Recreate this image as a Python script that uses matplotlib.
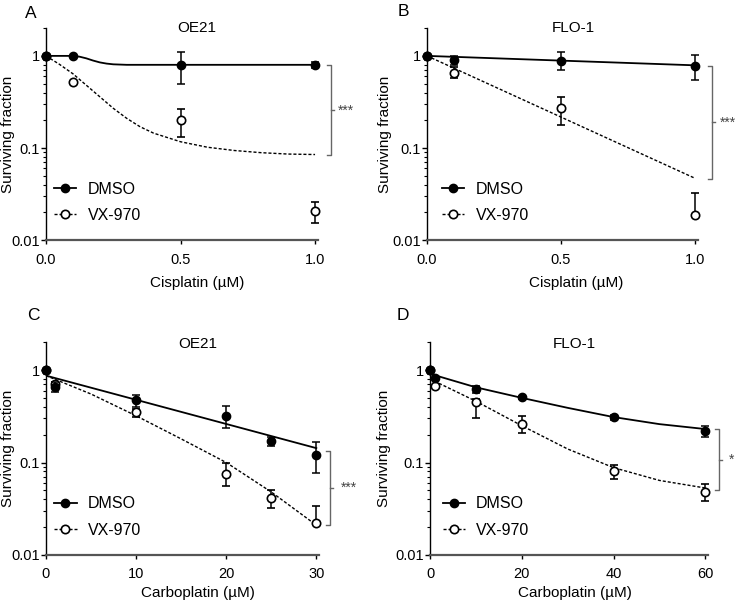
import numpy as np
import matplotlib
matplotlib.use("Agg")
import matplotlib.pyplot as plt
from matplotlib.lines import Line2D
from matplotlib.ticker import LogLocator, FixedLocator, NullFormatter

plt.rcParams['font.family'] = ['Liberation Sans', 'DejaVu Sans']

# ---- panel A: OE21, cisplatin
a_x = [0, 0.1, 0.5, 1.0]
a_dmso = [1.0, 1.0, 0.80, 0.80]
a_dmso_lo = [1.0, 1.0, 0.49, 0.74]
a_dmso_hi = [1.0, 1.0, 1.10, 0.86]
a_vx = [1.0, 0.52, 0.20, 0.0205]
a_vx_lo = [1.0, 0.52, 0.133, 0.0155]
a_vx_hi = [1.0, 0.52, 0.265, 0.0257]
a_fitx_dmso = [0, 0.1, 0.125, 0.15, 0.175, 0.2, 0.225, 0.25, 0.3, 0.5, 1.0]
a_fit_dmso = [1.0, 1.0, 0.98, 0.94, 0.89, 0.85, 0.825, 0.81, 0.80, 0.80, 0.80]
a_fitx_vx = [0, 0.05, 0.1, 0.15, 0.2, 0.25, 0.3, 0.35, 0.4, 0.5, 0.6, 0.7, 0.8, 0.9, 1.0]
a_fit_vx = [1.0, 0.81, 0.64, 0.48, 0.36, 0.27, 0.21, 0.17, 0.145, 0.117, 0.102, 0.094, 0.089, 0.086, 0.085]

# ---- panel B: FLO-1, cisplatin
b_x = [0, 0.1, 0.5, 1.0]
b_dmso = [1.0, 0.91, 0.89, 0.785]
b_dmso_lo = [1.0, 0.80, 0.70, 0.55]
b_dmso_hi = [1.0, 1.0, 1.10, 1.02]
b_vx = [1.0, 0.65, 0.27, 0.0187]
b_vx_lo = [1.0, 0.57, 0.18, 0.0187]
b_vx_hi = [1.0, 0.75, 0.355, 0.0325]
b_fitx = [0, 1.0]
b_fit_dmso = [1.0, 0.79]
b_fit_vx = [1.0, 0.047]

# ---- panel C: OE21, carboplatin
c_x = [0, 1, 10, 20, 25, 30]
c_dmso = [1.0, 0.66, 0.47, 0.32, 0.169, 0.121]
c_dmso_lo = [1.0, 0.58, 0.40, 0.235, 0.15, 0.077]
c_dmso_hi = [1.0, 0.75, 0.54, 0.41, 0.19, 0.166]
c_vx = [1.0, 0.70, 0.35, 0.076, 0.041, 0.022]
c_vx_lo = [1.0, 0.66, 0.31, 0.056, 0.032, 0.022]
c_vx_hi = [1.0, 0.74, 0.38, 0.098, 0.050, 0.034]
c_fitx_dmso = [0, 30]
c_fit_dmso = [0.87, 0.143]
c_fitx_vx = [0, 5, 10, 15, 20, 25, 30]
c_fit_vx = [0.87, 0.55, 0.32, 0.18, 0.10, 0.048, 0.021]

# ---- panel D: FLO-1, carboplatin
d_x = [0, 1, 10, 20, 40, 60]
d_dmso = [1.0, 0.82, 0.62, 0.51, 0.31, 0.22]
d_dmso_lo = [1.0, 0.82, 0.57, 0.49, 0.29, 0.19]
d_dmso_hi = [1.0, 0.82, 0.67, 0.53, 0.33, 0.25]
d_vx = [1.0, 0.68, 0.45, 0.26, 0.080, 0.048]
d_vx_lo = [1.0, 0.68, 0.30, 0.21, 0.067, 0.038]
d_vx_hi = [1.0, 0.68, 0.49, 0.32, 0.093, 0.059]
d_fitx = [0, 10, 20, 30, 40, 50, 60]
d_fit_dmso = [0.91, 0.65, 0.50, 0.39, 0.31, 0.26, 0.23]
d_fit_vx = [0.80, 0.46, 0.25, 0.14, 0.088, 0.064, 0.053]

labels = ['DMSO', 'VX-970']

fig = plt.figure(figsize=(7.38, 6.08), dpi=100)

dash = (0, (2.2, 1.4))


def panel(rect, xlim, xticks, xticklabels, xlabel, title, title_x,
          fits, pts, bracket, leg_xy, ylab_x, xlab_x, xlab_y, title_y):
    ax = fig.add_axes(rect)
    ax.set_yscale('log')
    ax.set_ylim(0.01, 2.0)
    ax.set_xlim(*xlim)

    (fx_d, fy_d), (fx_v, fy_v) = fits
    ax.plot(fx_d, fy_d, color='black', lw=1.3, zorder=2)
    ax.plot(fx_v, fy_v, color='black', lw=1.0, ls=dash, zorder=2)

    (x, yd, dlo, dhi), (_, yv, vlo, vhi) = pts
    yv = np.array(yv); yd = np.array(yd)
    ax.errorbar(x, yv, yerr=[yv - np.array(vlo), np.array(vhi) - yv], fmt='o',
                ms=6, mfc='white', mec='black', mew=1.2, ecolor='black',
                elinewidth=1.1, capsize=3, capthick=1.1, clip_on=False, zorder=3)
    ax.errorbar(x, yd, yerr=[yd - np.array(dlo), np.array(dhi) - yd], fmt='o',
                ms=6, mfc='black', mec='black', ecolor='black',
                elinewidth=1.1, capsize=3, capthick=1.1, clip_on=False, zorder=4)

    # significance bracket
    bx, tick, y0, y1, star, sx = bracket
    ax.plot([bx - tick, bx, bx, bx - tick], [y0, y0, y1, y1], color='#666666',
            lw=1.0, clip_on=False)
    ym = np.sqrt(y0 * y1)
    ax.plot([bx, bx + tick * 0.7], [ym, ym], color='#666666', lw=1.0, clip_on=False)
    ax.text(sx, ym, star, ha='left', va='center', fontsize=10, color='#444444')

    for s in ['top', 'right']:
        ax.spines[s].set_visible(False)
    ax.spines['left'].set_color('black')
    ax.spines['left'].set_linewidth(1.0)
    ax.spines['bottom'].set_color('#555555')
    ax.spines['bottom'].set_linewidth(1.6)

    ax.yaxis.set_major_locator(FixedLocator([0.01, 0.1, 1]))
    ax.set_yticklabels(['0.01', '0.1', '1'])
    ax.yaxis.set_minor_locator(LogLocator(base=10, subs=np.arange(2, 10)))
    ax.yaxis.set_minor_formatter(NullFormatter())
    ax.tick_params(axis='y', which='major', length=3.5, width=1.0, pad=1, labelsize=10.5)
    ax.tick_params(axis='y', which='minor', length=2, width=0.8)
    ax.set_xticks(xticks)
    ax.set_xticklabels(xticklabels)
    ax.tick_params(axis='x', length=3, width=1.0, pad=6, labelsize=10.5)

    ax.set_ylabel('Surviving fraction', fontsize=11)
    ax.yaxis.label.set_va('center')
    ax.yaxis.set_label_coords(ylab_x, 0.5)
    ax.set_xlabel(xlabel, fontsize=11)
    ax.xaxis.label.set_va('center')
    ax.xaxis.set_label_coords(xlab_x, xlab_y)
    ax.text(title_x, title_y, title, transform=ax.transAxes, ha='center',
            va='center', fontsize=11)

    handles = [Line2D([], [], color='black', lw=1.3, marker='o', ms=6),
               Line2D([], [], color='black', lw=1.0, ls=dash, marker='o', ms=6,
                      mfc='white', mew=1.2)]
    ax.legend(handles, labels, loc='upper left', bbox_to_anchor=leg_xy,
              frameon=False, borderpad=0, borderaxespad=0, handlelength=1.4,
              handletextpad=0.7, labelspacing=0.7, fontsize=11.5)
    return ax


panel([0.0623, 0.605, 0.3686, 0.3487], (0, 1.011), [0, 0.5, 1.0], ['0.0', '0.5', '1.0'],
      'Cisplatin (µM)', 'OE21', 0.555,
      ((a_fitx_dmso, a_fit_dmso), (a_fitx_vx, a_fit_vx)),
      ((a_x, a_dmso, a_dmso_lo, a_dmso_hi), (a_x, a_vx, a_vx_lo, a_vx_hi)),
      (1.059, 0.015, 0.79, 0.083, '***', 1.085), (0.03, 0.275), -0.14, 0.555, -0.203, 1.0)

panel([0.5786, 0.605, 0.367, 0.3487], (0, 1.011), [0, 0.5, 1.0], ['0.0', '0.5', '1.0'],
      'Cisplatin (µM)', 'FLO-1', 0.54,
      ((b_fitx, b_fit_dmso), (b_fitx, b_fit_vx)),
      ((b_x, b_dmso, b_dmso_lo, b_dmso_hi), (b_x, b_vx, b_vx_lo, b_vx_hi)),
      (1.063, 0.015, 0.785, 0.046, '***', 1.092), (0.055, 0.275), -0.155, 0.55, -0.203, 1.0)

panel([0.0623, 0.0872, 0.37, 0.350], (0, 30.3), [0, 10, 20, 30], ['0', '10', '20', '30'],
      'Carboplatin (µM)', 'OE21', 0.555,
      ((c_fitx_dmso, c_fit_dmso), (c_fitx_vx, c_fit_vx)),
      ((c_x, c_dmso, c_dmso_lo, c_dmso_hi), (c_x, c_vx, c_vx_lo, c_vx_hi)),
      (31.56, 0.45, 0.133, 0.021, '***', 32.7), (0.03, 0.275), -0.14, 0.555, -0.178, 0.99)

panel([0.5827, 0.0872, 0.3767, 0.350], (0, 60.6), [0, 20, 40, 60], ['0', '20', '40', '60'],
      'Carboplatin (µM)', 'FLO-1', 0.52,
      ((d_fitx, d_fit_dmso), (d_fitx, d_fit_vx)),
      ((d_x, d_dmso, d_dmso_lo, d_dmso_hi), (d_x, d_vx, d_vx_lo, d_vx_hi)),
      (63.0, 0.9, 0.23, 0.05, '*', 65.2), (0.045, 0.275), -0.164, 0.52, -0.178, 0.99)

for lab, px, py in [('A', 31, 13), ('B', 403, 11), ('C', 33, 315), ('D', 403, 315)]:
    fig.text(px / 738, 1 - py / 608, lab, ha='center', va='center', fontsize=12.5)

fig.savefig('out.png', dpi=100)
